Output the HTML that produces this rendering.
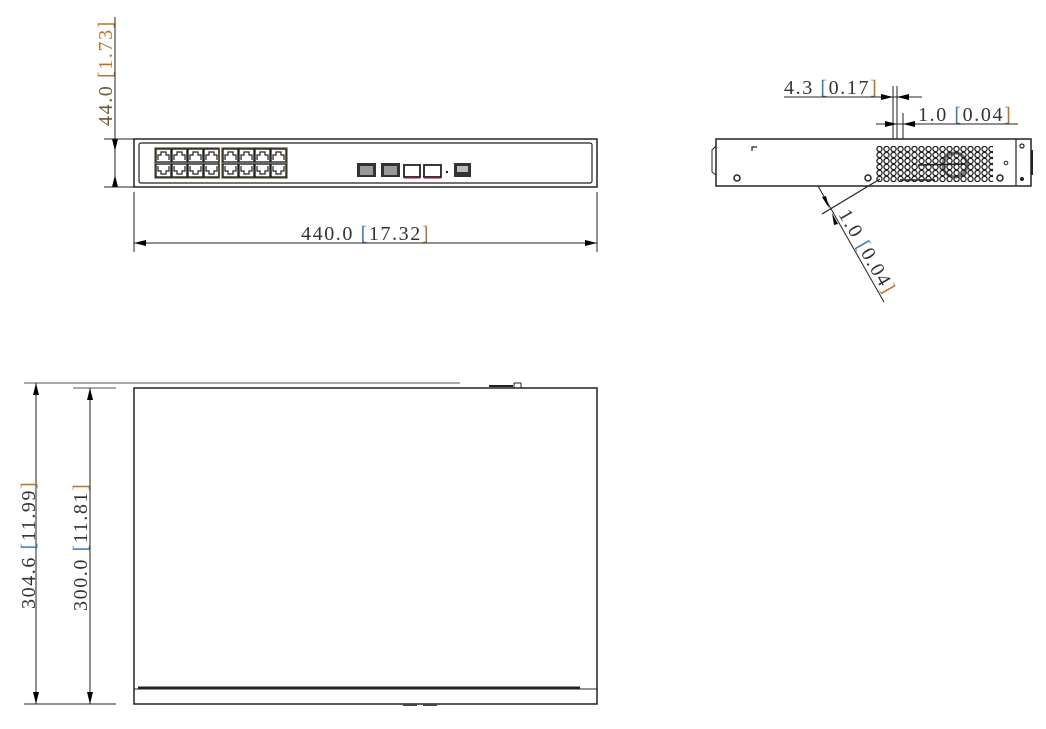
<!DOCTYPE html>
<html><head><meta charset="utf-8"><style>
html,body{margin:0;padding:0;background:#fff;}
svg{display:block;}
text{font-family:"Liberation Serif","Noto Serif CJK SC",serif;font-size:20px;fill:#333;letter-spacing:1.6px;}
.b{fill:#3a78b8}.o{fill:#b8742a}
</style></head><body>
<svg width="1046" height="729" viewBox="0 0 1046 729" xmlns="http://www.w3.org/2000/svg">
<defs>
<g id="p"><rect x="0" y="0" width="15" height="13" fill="none" stroke="#222" stroke-width="1.4"/><path d="M2,11 V6 H5 V3 H10 V6 H13 V11" fill="none" stroke="#222" stroke-width="1.2"/></g>
<g id="pd"><rect x="0" y="0" width="15" height="13" fill="none" stroke="#222" stroke-width="1.4"/><path d="M2,2 V7 H5 V10 H10 V7 H13 V2" fill="none" stroke="#222" stroke-width="1.2"/></g>
<pattern id="hex" x="876" y="146" width="7" height="6" patternUnits="userSpaceOnUse"><circle cx="3.5" cy="3" r="2.6" fill="none" stroke="#222" stroke-width="1.3"/></pattern>
</defs>

<!-- FRONT VIEW -->
<rect x="134" y="139" width="463" height="48" fill="none" stroke="#222" stroke-width="1.5"/>
<rect x="139" y="143" width="453" height="40" rx="2" fill="none" stroke="#222" stroke-width="1.2"/>
<rect x="155" y="148" width="64" height="30" fill="none" stroke="#7a6a4a" stroke-width="1.4"/>
<rect x="222" y="148" width="65" height="30" fill="none" stroke="#7a6a4a" stroke-width="1.4"/>
<use href="#p" x="156" y="149"/><use href="#p" x="172" y="149"/><use href="#p" x="188" y="149"/><use href="#p" x="204" y="149"/>
<use href="#pd" x="156" y="164"/><use href="#pd" x="172" y="164"/><use href="#pd" x="188" y="164"/><use href="#pd" x="204" y="164"/>
<use href="#p" x="223" y="149"/><use href="#p" x="239" y="149"/><use href="#p" x="255" y="149"/><use href="#p" x="271" y="149"/>
<use href="#pd" x="223" y="164"/><use href="#pd" x="239" y="164"/><use href="#pd" x="255" y="164"/><use href="#pd" x="271" y="164"/>
<rect x="357" y="163" width="19" height="14" fill="#333"/><rect x="360" y="166" width="13" height="9" fill="#999"/>
<rect x="381" y="163" width="19" height="14" fill="#333"/><rect x="384" y="166" width="13" height="9" fill="#999"/>
<rect x="404" y="165" width="16" height="12" fill="none" stroke="#222" stroke-width="1.8"/><line x1="404" y1="178" x2="420" y2="178" stroke="#a03050" stroke-width="1.2"/>
<rect x="424" y="165" width="17" height="12" fill="none" stroke="#222" stroke-width="1.8"/><line x1="424" y1="178" x2="441" y2="178" stroke="#a03050" stroke-width="1.2"/>
<circle cx="447" cy="172" r="1.2" fill="#222"/>
<rect x="454" y="163" width="17" height="14" fill="#333"/><rect x="457" y="166" width="11" height="6" fill="#bbb"/>
<!-- height dim -->
<line x1="115" y1="17" x2="115" y2="187" stroke="#222" stroke-width="1"/>
<path d="M115,151 L112,139 L118,139 z M115,175 L112,187 L118,187 z" fill="#000"/>
<line x1="104" y1="139" x2="134" y2="139" stroke="#222"/>
<line x1="104" y1="187" x2="134" y2="187" stroke="#222"/>
<text transform="translate(112,126) rotate(-90)"><tspan fill="#6a5a30">44.0</tspan> <tspan class="o">[1.73]</tspan></text>
<!-- width dim -->
<line x1="134" y1="192" x2="134" y2="252" stroke="#222"/>
<line x1="597" y1="192" x2="597" y2="252" stroke="#222"/>
<line x1="134" y1="243" x2="597" y2="243" stroke="#222"/>
<path d="M134,243 L146,240 L146,246 z M597,243 L585,240 L585,246 z" fill="#000"/>
<text x="301" y="240">440.0 <tspan class="b">[</tspan>17.32<tspan class="o">]</tspan></text>

<!-- SIDE VIEW -->
<rect x="716" y="139" width="315" height="47" fill="none" stroke="#222" stroke-width="1.5"/>
<line x1="1016" y1="139" x2="1016" y2="186" stroke="#222" stroke-width="1.2"/>
<path d="M716,146 L712,150 L712,172 L716,175" fill="none" stroke="#222"/>
<rect x="1031" y="150" width="2" height="25" fill="#222"/>
<path d="M752,151 V147 H757" fill="none" stroke="#222" stroke-width="1.2"/>
<rect x="876" y="146" width="117" height="36" fill="url(#hex)"/>
<path d="M918,165 L965,164 M900,180 L935,180" stroke="#222" stroke-width="1.5"/>
<circle cx="955" cy="165" r="12" fill="none" stroke="#222" stroke-width="3" opacity="0.6"/>
<circle cx="737" cy="178" r="3" fill="none" stroke="#222" stroke-width="1.5"/>
<circle cx="868" cy="178" r="3" fill="none" stroke="#222" stroke-width="1.5"/>
<circle cx="1000" cy="178" r="3" fill="none" stroke="#222" stroke-width="1.5"/>
<circle cx="1006" cy="163" r="1.8" fill="none" stroke="#222"/>
<circle cx="1022" cy="146" r="2" fill="none" stroke="#222" stroke-width="1.2"/>
<circle cx="1022" cy="179" r="2" fill="#222"/>
<!-- 4.3 dim -->
<line x1="893" y1="86" x2="893" y2="139" stroke="#222"/>
<line x1="897" y1="86" x2="897" y2="139" stroke="#222"/>
<line x1="903" y1="113" x2="903" y2="139" stroke="#222"/>
<line x1="784" y1="97" x2="922" y2="97" stroke="#222"/>
<path d="M893,97 L881,94 L881,100 z M897,97 L909,94 L909,100 z" fill="#000"/>
<text x="784" y="94">4.3 <tspan class="b">[</tspan>0.17<tspan class="o">]</tspan></text>
<line x1="876" y1="124" x2="1018" y2="124" stroke="#222"/>
<path d="M897,124 L885,121 L885,127 z M903,124 L915,121 L915,127 z" fill="#000"/>
<text x="918" y="121">1.0 <tspan class="b">[</tspan>0.04<tspan class="o">]</tspan></text>
<!-- diagonal dim -->
<line x1="818" y1="186" x2="884" y2="302" stroke="#222"/>
<line x1="822" y1="214" x2="880" y2="179" stroke="#222" stroke-width="1.2"/>
<path d="M829,208 L822,197 L826,196 z M832,213 L838,224 L834,225 z" fill="#000"/>
<text transform="translate(838,214) rotate(60)">1.0 <tspan class="b">[</tspan>0.04<tspan class="o">]</tspan></text>

<!-- TOP VIEW -->
<rect x="134" y="388" width="463" height="316" fill="none" stroke="#222" stroke-width="1.5"/>
<line x1="134" y1="689" x2="597" y2="689" stroke="#222" stroke-width="1"/>
<line x1="138" y1="688" x2="580" y2="688" stroke="#222" stroke-width="3"/>
<line x1="24" y1="383" x2="460" y2="383" stroke="#555"/>
<rect x="489" y="385" width="24" height="2" fill="#222"/>
<rect x="514" y="383" width="7" height="5" fill="none" stroke="#222"/>
<line x1="73" y1="388" x2="116" y2="388" stroke="#555"/>
<line x1="24" y1="704" x2="116" y2="704" stroke="#222"/>
<rect x="403" y="704" width="14" height="2" fill="#444"/><rect x="423" y="704" width="14" height="2" fill="#444"/>
<line x1="36" y1="383" x2="36" y2="704" stroke="#222"/>
<path d="M36,383 L33,395 L39,395 z M36,704 L33,692 L39,692 z" fill="#000"/>
<line x1="90" y1="388" x2="90" y2="704" stroke="#222"/>
<path d="M90,388 L87,400 L93,400 z M90,704 L87,692 L93,692 z" fill="#000"/>
<text transform="translate(35,609) rotate(-90)">304.6 <tspan class="b">[</tspan>11.99<tspan class="o">]</tspan></text>
<text transform="translate(87,611) rotate(-90)">300.0 <tspan class="b">[</tspan>11.81<tspan class="o">]</tspan></text>
</svg>
</body></html>
